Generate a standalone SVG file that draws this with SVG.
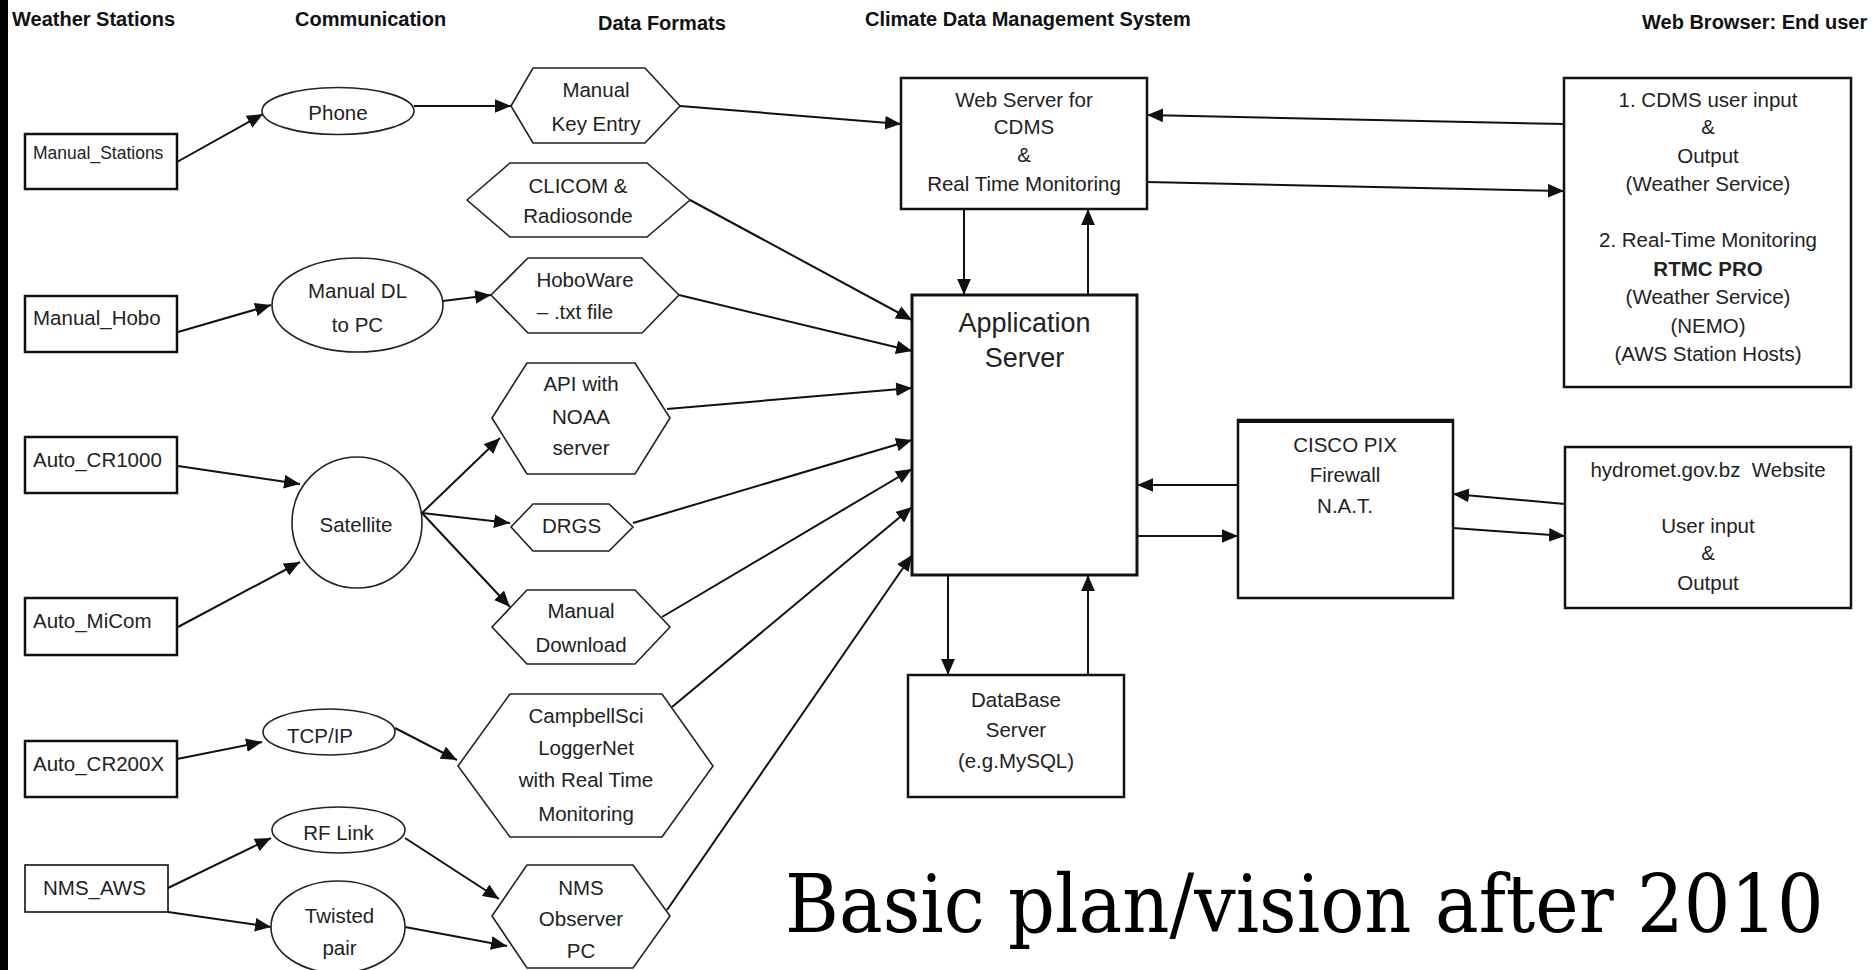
<svg xmlns="http://www.w3.org/2000/svg" width="1872" height="970" viewBox="0 0 1872 970">
  <defs>
    <style>
      .hdr { font-family: "Liberation Sans", Arial, sans-serif; font-weight: bold; font-size: 20px; fill: #111; }
      .lbl { font-family: "Liberation Sans", Arial, sans-serif; font-size: 20.5px; fill: #222; text-anchor: middle; }
      .lft { text-anchor: start; }
      .box { fill: #fff; stroke: #111; stroke-width: 2.5; }
      .box.thin { stroke-width: 1.6; }
      .box.heavy { stroke-width: 3; }
      .shape { fill: #fff; stroke: #222; stroke-width: 1.6; }
      .conn line { stroke: #111; stroke-width: 2; marker-end: url(#arrow); }
      .title { font-family: "DejaVu Serif", "Liberation Serif", serif; font-size: 80px; fill: #000; }
    </style>
    <marker id="arrow" markerUnits="userSpaceOnUse" markerWidth="16" markerHeight="14" viewBox="0 0 14 12" refX="14" refY="6" orient="auto">
      <path d="M0,0 L14,6 L0,12 Z" fill="#111"/>
    </marker>
  </defs>

  <rect width="1872" height="970" fill="#fff"/>
  <rect x="0" y="0" width="8" height="970" fill="#000"/>

  <!-- column headings -->
  <g id="headings">
    <text class="hdr" x="12" y="26">Weather Stations</text>
    <text class="hdr" x="295" y="26">Communication</text>
    <text class="hdr" x="598" y="30">Data Formats</text>
    <text class="hdr" x="865" y="26">Climate Data Management System</text>
    <text class="hdr" x="1642" y="29">Web Browser: End user</text>
  </g>

  <!-- connectors -->
  <g id="connectors" class="conn">
    <line x1="177" y1="162" x2="263" y2="114"/>
    <line x1="414" y1="106" x2="511" y2="106"/>
    <line x1="680" y1="106" x2="901" y2="124"/>
    <line x1="178" y1="332" x2="271" y2="305"/>
    <line x1="443" y1="301" x2="491" y2="295"/>
    <line x1="178" y1="466" x2="300" y2="484"/>
    <line x1="178" y1="627" x2="300" y2="562"/>
    <line x1="422" y1="513" x2="500" y2="438"/>
    <line x1="422" y1="513" x2="510" y2="523"/>
    <line x1="422" y1="513" x2="510" y2="607"/>
    <line x1="177" y1="759" x2="262" y2="742"/>
    <line x1="395" y1="728" x2="457" y2="760"/>
    <line x1="168" y1="888" x2="271" y2="838"/>
    <line x1="168" y1="912" x2="271" y2="927"/>
    <line x1="405" y1="838" x2="499" y2="899"/>
    <line x1="405" y1="927" x2="507" y2="946"/>
    <line x1="690" y1="200" x2="912" y2="320"/>
    <line x1="679" y1="295" x2="912" y2="351"/>
    <line x1="667" y1="409" x2="912" y2="388"/>
    <line x1="633" y1="523" x2="912" y2="440"/>
    <line x1="662" y1="617" x2="912" y2="469"/>
    <line x1="672" y1="707" x2="912" y2="507"/>
    <line x1="667" y1="910" x2="912" y2="555"/>
    <line x1="964" y1="209" x2="964" y2="295"/>
    <line x1="1088" y1="295" x2="1088" y2="209"/>
    <line x1="1564" y1="124" x2="1147" y2="115"/>
    <line x1="1147" y1="182" x2="1564" y2="191"/>
    <line x1="1238" y1="485" x2="1137" y2="485"/>
    <line x1="1137" y1="536" x2="1238" y2="536"/>
    <line x1="1565" y1="504" x2="1453" y2="494"/>
    <line x1="1453" y1="528" x2="1565" y2="536"/>
    <line x1="948" y1="575" x2="948" y2="675"/>
    <line x1="1088" y1="675" x2="1088" y2="575"/>
  </g>

  <!-- weather stations -->
  <g id="manual-stations">
    <rect class="box" x="25" y="134" width="152" height="55"/>
    <text class="lbl lft" x="33" y="159" style="font-size:17.5px">Manual_Stations</text>
  </g>
  <g id="manual-hobo">
    <rect class="box" x="25" y="296" width="152" height="56"/>
    <text class="lbl lft" x="33" y="325">Manual_Hobo</text>
  </g>
  <g id="auto-cr1000">
    <rect class="box" x="25" y="437" width="152" height="56"/>
    <text class="lbl lft" x="33" y="467">Auto_CR1000</text>
  </g>
  <g id="auto-micom">
    <rect class="box" x="25" y="598" width="152" height="57"/>
    <text class="lbl lft" x="33" y="628">Auto_MiCom</text>
  </g>
  <g id="auto-cr200x">
    <rect class="box" x="25" y="741" width="152" height="56"/>
    <text class="lbl lft" x="33" y="771">Auto_CR200X</text>
  </g>
  <g id="nms-aws">
    <rect class="box thin" x="25" y="865" width="143" height="47"/>
    <text class="lbl lft" x="43" y="895">NMS_AWS</text>
  </g>

  <!-- communication links -->
  <g id="phone">
    <ellipse class="shape" cx="338" cy="111" rx="76" ry="23.5"/>
    <text class="lbl" x="338" y="120">Phone</text>
  </g>
  <g id="manual-dl">
    <ellipse class="shape" cx="357.5" cy="305" rx="85.5" ry="47"/>
    <text class="lbl" x="357.5" y="298">Manual DL</text>
    <text class="lbl" x="357.5" y="332">to PC</text>
  </g>
  <g id="satellite">
    <ellipse class="shape" cx="357" cy="522.5" rx="65" ry="65.5"/>
    <text class="lbl" x="356" y="532">Satellite</text>
  </g>
  <g id="tcp-ip">
    <ellipse class="shape" cx="329" cy="732" rx="66" ry="23"/>
    <text class="lbl" x="320" y="743">TCP/IP</text>
  </g>
  <g id="rf-link">
    <ellipse class="shape" cx="338.5" cy="830" rx="66.5" ry="23"/>
    <text class="lbl" x="338.5" y="840">RF Link</text>
  </g>
  <g id="twisted-pair">
    <ellipse class="shape" cx="338" cy="927" rx="67" ry="46"/>
    <text class="lbl" x="339.5" y="923">Twisted</text>
    <text class="lbl" x="339.5" y="955">pair</text>
  </g>

  <!-- data formats -->
  <g id="manual-key-entry">
    <polygon class="shape" points="511,106 533,68 645,68 680,106 645,143 533,143"/>
    <text class="lbl" x="596" y="97">Manual</text>
    <text class="lbl" x="596" y="131">Key Entry</text>
  </g>
  <g id="clicom">
    <polygon class="shape" points="467,200 510,163 647,163 690,200 647,237 510,237"/>
    <text class="lbl" x="578" y="193">CLICOM &amp;</text>
    <text class="lbl" x="578" y="223">Radiosonde</text>
  </g>
  <g id="hoboware">
    <polygon class="shape" points="491,295 528,258 642,258 679,295 642,333 528,333"/>
    <text class="lbl" x="585" y="287">HoboWare</text>
    <text class="lbl" x="575" y="319">– .txt file</text>
  </g>
  <g id="api-noaa">
    <polygon class="shape" points="492,418 527,363 635,363 670,418 635,474 527,474"/>
    <text class="lbl" x="581" y="391">API with</text>
    <text class="lbl" x="581" y="424">NOAA</text>
    <text class="lbl" x="581" y="455">server</text>
  </g>
  <g id="drgs">
    <polygon class="shape" points="511,527 533,504 609,504 633,527 609,551 533,551"/>
    <text class="lbl" x="571.5" y="533">DRGS</text>
  </g>
  <g id="manual-download">
    <polygon class="shape" points="492,627 527,590 635,590 670,627 635,664 527,664"/>
    <text class="lbl" x="581" y="618">Manual</text>
    <text class="lbl" x="581" y="652">Download</text>
  </g>
  <g id="campbellsci">
    <polygon class="shape" points="458,766 510,694 662,694 713,766 662,837 510,837"/>
    <text class="lbl" x="586" y="723">CampbellSci</text>
    <text class="lbl" x="586" y="755">LoggerNet</text>
    <text class="lbl" x="586" y="787">with Real Time</text>
    <text class="lbl" x="586" y="821">Monitoring</text>
  </g>
  <g id="nms-observer">
    <polygon class="shape" points="492,916 527,865 633,865 670,916 633,968 527,968"/>
    <text class="lbl" x="581" y="895">NMS</text>
    <text class="lbl" x="581" y="926">Observer</text>
    <text class="lbl" x="581" y="958">PC</text>
  </g>

  <!-- climate data management system -->
  <g id="web-server">
    <rect class="box" x="901" y="78" width="246" height="131"/>
    <text class="lbl" x="1024" y="107">Web Server for</text>
    <text class="lbl" x="1024" y="134">CDMS</text>
    <text class="lbl" x="1024" y="162">&amp;</text>
    <text class="lbl" x="1024" y="191">Real Time Monitoring</text>
  </g>
  <g id="application-server">
    <rect class="box heavy" x="912" y="295" width="225" height="280"/>
    <text class="lbl" x="1024.5" y="332" style="font-size:27px">Application</text>
    <text class="lbl" x="1024.5" y="367" style="font-size:27px">Server</text>
  </g>
  <g id="database-server">
    <rect class="box" x="908" y="675" width="216" height="122"/>
    <text class="lbl" x="1016" y="707">DataBase</text>
    <text class="lbl" x="1016" y="737">Server</text>
    <text class="lbl" x="1016" y="768">(e.g.MySQL)</text>
  </g>
  <g id="firewall">
    <rect class="box" x="1238" y="420" width="215" height="178"/>
    <line x1="1238" y1="421" x2="1453" y2="421" stroke="#111" stroke-width="4"/>
    <text class="lbl" x="1345" y="452">CISCO PIX</text>
    <text class="lbl" x="1345" y="482">Firewall</text>
    <text class="lbl" x="1345" y="513">N.A.T.</text>
  </g>

  <!-- end users -->
  <g id="browser-users">
    <rect class="box" x="1564" y="78" width="287" height="309"/>
    <text class="lbl" x="1708" y="107">1. CDMS user input</text>
    <text class="lbl" x="1708" y="134">&amp;</text>
    <text class="lbl" x="1708" y="163">Output</text>
    <text class="lbl" x="1708" y="191">(Weather Service)</text>
    <text class="lbl" x="1708" y="247">2. Real-Time Monitoring</text>
    <text class="lbl" x="1708" y="276" style="font-weight:bold">RTMC PRO</text>
    <text class="lbl" x="1708" y="304">(Weather Service)</text>
    <text class="lbl" x="1708" y="333">(NEMO)</text>
    <text class="lbl" x="1708" y="361">(AWS Station Hosts)</text>
  </g>
  <g id="website">
    <rect class="box" x="1565" y="447" width="286" height="161"/>
    <text class="lbl" x="1708" y="477" xml:space="preserve">hydromet.gov.bz  Website</text>
    <text class="lbl" x="1708" y="533">User input</text>
    <text class="lbl" x="1708" y="560">&amp;</text>
    <text class="lbl" x="1708" y="590">Output</text>
  </g>

  <!-- caption, drawn narrow -->
  <g transform="translate(785,932) scale(0.77,1)">
    <text class="title" x="0" y="0" textLength="1349" lengthAdjust="spacingAndGlyphs">Basic plan/vision after 2010</text>
  </g>
</svg>
